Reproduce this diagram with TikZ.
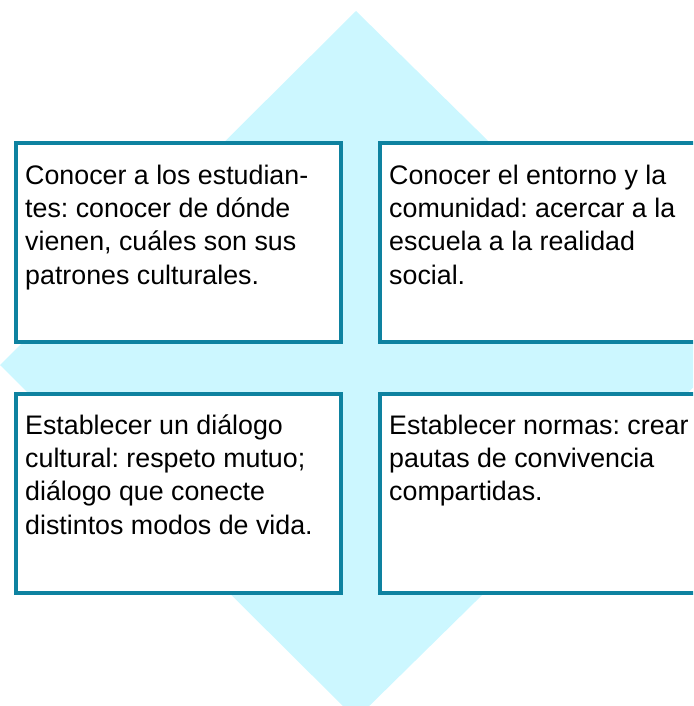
\documentclass[tikz,border=0pt]{standalone}
\usepackage{fontspec}
\setmainfont{Liberation Sans}
\frenchspacing
\definecolor{teal1}{RGB}{14,130,160}
\definecolor{cyanbg}{RGB}{204,247,255}
\begin{document}
\begin{tikzpicture}[x=1pt,y=-1pt,
  box/.style={draw=teal1,line width=4pt,fill=white,rectangle,inner sep=0pt,
    minimum width=325pt,minimum height=199pt,anchor=north west},
  txt/.style={anchor=north west,inner sep=0pt,align=left,
    font=\fontsize{26.8}{33.3}\selectfont\frenchspacing}]
\useasboundingbox (0,0) rectangle (693,706);
\clip (0,0) rectangle (693,706);
\fill[cyanbg] (356,11) -- (716,365) -- (356,719) -- (0,365) -- cycle;
\node[box] (b1) at (14,141) {};
\node[box] (b2) at (378,141) {};
\node[box] (b3) at (14,392) {};
\node[box] (b4) at (378,392) {};
\node[txt] (t1) at (25,160) {\rule{0pt}{24pt}Conocer a los estudian-\\tes: conocer de dónde\\vienen, cuáles son sus\\patrones culturales.};
\node[txt] (t2) at (389,160) {\rule{0pt}{24pt}Conocer el entorno y la\\comunidad: acercar a la\\escuela a la realidad\\social.};
\node[txt] (t3) at (25,410) {\rule{0pt}{24pt}Establecer un diálogo\\cultural: respeto mutuo;\\diálogo que conecte\\distintos modos de vida.};
\node[txt] (t4) at (389,410) {\rule{0pt}{24pt}Establecer normas: crear\\pautas de convivencia\\compartidas.};
\end{tikzpicture}
\end{document}
